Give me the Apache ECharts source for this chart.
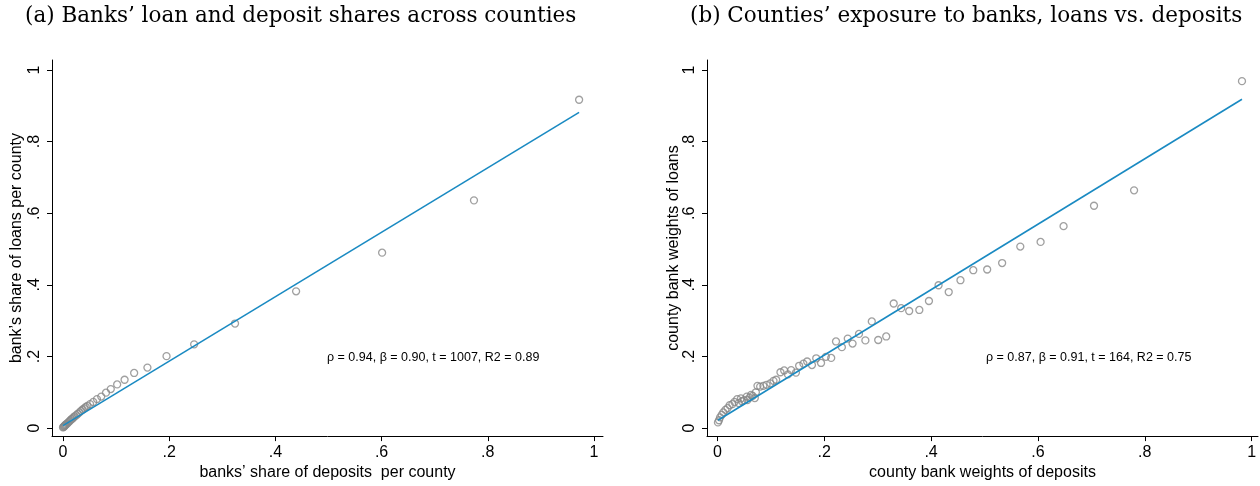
<!DOCTYPE html>
<html>
<head>
<meta charset="utf-8">
<script src="https://cdn.jsdelivr.net/npm/echarts@6/dist/echarts.min.js"></script>
<style>
  html, body { margin: 0; padding: 0; background: #fff; }
  #chart { width: 1260px; height: 486px; }
</style>
</head>
<body>
<div id="chart"></div>
<script>
// ---------- DATA ----------
const tickValues = [0, 0.2, 0.4, 0.6, 0.8, 1];
const tickLabels = ['0', '.2', '.4', '.6', '.8', '1'];

// Panel (a): banks' share of deposits (x) vs share of loans (y)
const depositsA = [0.000, 0.001, 0.002, 0.003, 0.004, 0.005, 0.006, 0.008, 0.010, 0.012,
  0.014, 0.016, 0.018, 0.020, 0.022, 0.025, 0.028, 0.031, 0.034, 0.037, 0.040, 0.043,
  0.046, 0.051, 0.057, 0.064, 0.072, 0.081, 0.090, 0.102, 0.116, 0.134, 0.159, 0.195,
  0.247, 0.324, 0.439, 0.601, 0.774, 0.972];
const loansA = [0.002, 0.003, 0.005, 0.006, 0.008, 0.009, 0.011, 0.013, 0.016, 0.019,
  0.022, 0.025, 0.027, 0.030, 0.033, 0.036, 0.040, 0.044, 0.048, 0.052, 0.055, 0.059,
  0.062, 0.067, 0.073, 0.081, 0.088, 0.099, 0.109, 0.122, 0.135, 0.154, 0.169, 0.201,
  0.234, 0.292, 0.382, 0.490, 0.636, 0.917];
const fitA = [0.007, 0.90];   // intercept, slope
const statsA = 'ρ = 0.94, β = 0.90, t = 1007, R2 = 0.89';

// Panel (b): county bank weights of deposits (x) vs loans (y)
const depositsB = [0.001, 0.003, 0.005, 0.008, 0.011, 0.015, 0.019, 0.023, 0.028, 0.032,
  0.037, 0.040, 0.044, 0.046, 0.050, 0.055, 0.056, 0.060, 0.063, 0.066, 0.070, 0.072,
  0.075, 0.080, 0.086, 0.092, 0.099, 0.105, 0.110, 0.118, 0.125, 0.132, 0.138, 0.147,
  0.153, 0.161, 0.168, 0.177, 0.185, 0.194, 0.203, 0.213, 0.222, 0.233, 0.244, 0.253,
  0.265, 0.277, 0.289, 0.301, 0.316, 0.330, 0.344, 0.359, 0.378, 0.396, 0.414, 0.433,
  0.455, 0.479, 0.505, 0.533, 0.567, 0.605, 0.648, 0.705, 0.780, 0.982];
const loansB = [0.016, 0.022, 0.030, 0.037, 0.044, 0.051, 0.056, 0.064, 0.067, 0.073,
  0.081, 0.070, 0.083, 0.075, 0.078, 0.088, 0.078, 0.085, 0.093, 0.090, 0.084, 0.100,
  0.118, 0.116, 0.118, 0.121, 0.125, 0.132, 0.135, 0.156, 0.161, 0.150, 0.162, 0.155,
  0.174, 0.180, 0.186, 0.176, 0.195, 0.182, 0.199, 0.196, 0.242, 0.226, 0.250, 0.236,
  0.263, 0.245, 0.298, 0.246, 0.256, 0.348, 0.335, 0.327, 0.330, 0.355, 0.399, 0.380,
  0.413, 0.441, 0.443, 0.461, 0.507, 0.520, 0.564, 0.621, 0.664, 0.969];
const fitB = [0.021, 0.914];  // intercept, slope
const statsB = 'ρ = 0.87, β = 0.91, t = 164, R2 = 0.75';

const titleA = '(a) Banks\u2019 loan and deposit shares across counties';
const titleB = '(b) Counties\u2019 exposure to banks, loans vs. deposits';
const xNameA = 'banks\u2019 share of deposits  per county';
const yNameA = 'bank\u2019s share of loans per county';
const xNameB = 'county bank weights of deposits';
const yNameB = 'county bank weights of loans';

// ---------- BUILD ----------
const pts = (xs, ys) => xs.map((x, i) => [x, ys[i]]);
const fitLine = (xs, f) => {
  const lo = Math.min(...xs), hi = Math.max(...xs);
  return [[lo, f[0] + f[1] * lo], [hi, f[0] + f[1] * hi]];
};

const SANS = '"Liberation Sans", Arial, Helvetica, sans-serif';
const SERIF = '"DejaVu Serif", serif';
const axisCommon = {
  type: 'value',
  splitLine: { show: false },
  axisLine: { show: true, onZero: false, lineStyle: { color: '#000', width: 1 } },
  axisTick: { show: true, length: 5, inside: false, customValues: tickValues, lineStyle: { color: '#000' } },
  nameLocation: 'middle',
  nameTextStyle: { fontFamily: SANS, fontSize: 16, color: '#000' }
};
const fmt = v => { const i = tickValues.findIndex(t => Math.abs(t - v) < 1e-9); return i >= 0 ? tickLabels[i] : ''; };

function xAxis(grid, name, min, max) {
  return Object.assign({}, axisCommon, {
    gridIndex: grid, min, max, name, nameGap: 25,
    axisLabel: { customValues: tickValues, formatter: fmt, margin: 8, fontFamily: SANS, fontSize: 16, color: '#000' }
  });
}
function yAxis(grid, name, min, max, gap) {
  return Object.assign({}, axisCommon, {
    gridIndex: grid, min, max, name, nameGap: gap,
    axisLabel: { customValues: tickValues, formatter: fmt, rotate: 90, margin: 9, fontFamily: SANS, fontSize: 16, color: '#000' }
  });
}

const scatterStyle = { color: 'rgba(0,0,0,0)', borderColor: '#888888', borderWidth: 1.3 };
const lineStyle = { color: '#1a8ac2', width: 1.6 };
const titleText = { fontFamily: SERIF, fontWeight: 'normal', fontSize: 21.5, color: '#000' };
const statText = { fontFamily: SANS, fontWeight: 'normal', fontSize: 12.5, color: '#000' };

const option = {
  animation: false,
  backgroundColor: '#fff',
  title: [
    { text: titleA, left: 25, top: 5, padding: 0, textStyle: titleText },
    { text: titleB, left: 690, top: 5, padding: 0, textStyle: titleText },
    { text: statsA, left: 327, top: 351, padding: 0, textStyle: statText },
    { text: statsB, left: 986, top: 351, padding: 0, textStyle: statText }
  ],
  grid: [
    { left: 52, top: 60, width: 551, height: 377 },
    { left: 707, top: 60, width: 551, height: 377 }
  ],
  xAxis: [xAxis(0, xNameA, -0.0207, 1.017), xAxis(1, xNameB, -0.0195, 1.012)],
  yAxis: [yAxis(0, yNameA, -0.0223, 1.028, 27), yAxis(1, yNameB, -0.0223, 1.028, 24)],
  series: [
    { type: 'scatter', xAxisIndex: 0, yAxisIndex: 0, symbol: 'circle', symbolSize: 7, itemStyle: scatterStyle, data: pts(depositsA, loansA) },
    { type: 'line', xAxisIndex: 0, yAxisIndex: 0, symbol: 'none', lineStyle, data: fitLine(depositsA, fitA) },
    { type: 'scatter', xAxisIndex: 1, yAxisIndex: 1, symbol: 'circle', symbolSize: 7, itemStyle: scatterStyle, data: pts(depositsB, loansB) },
    { type: 'line', xAxisIndex: 1, yAxisIndex: 1, symbol: 'none', lineStyle, data: fitLine(depositsB, fitB) }
  ]
};

echarts.init(document.getElementById('chart'), null, { renderer: 'canvas' }).setOption(option);
</script>
</body>
</html>
